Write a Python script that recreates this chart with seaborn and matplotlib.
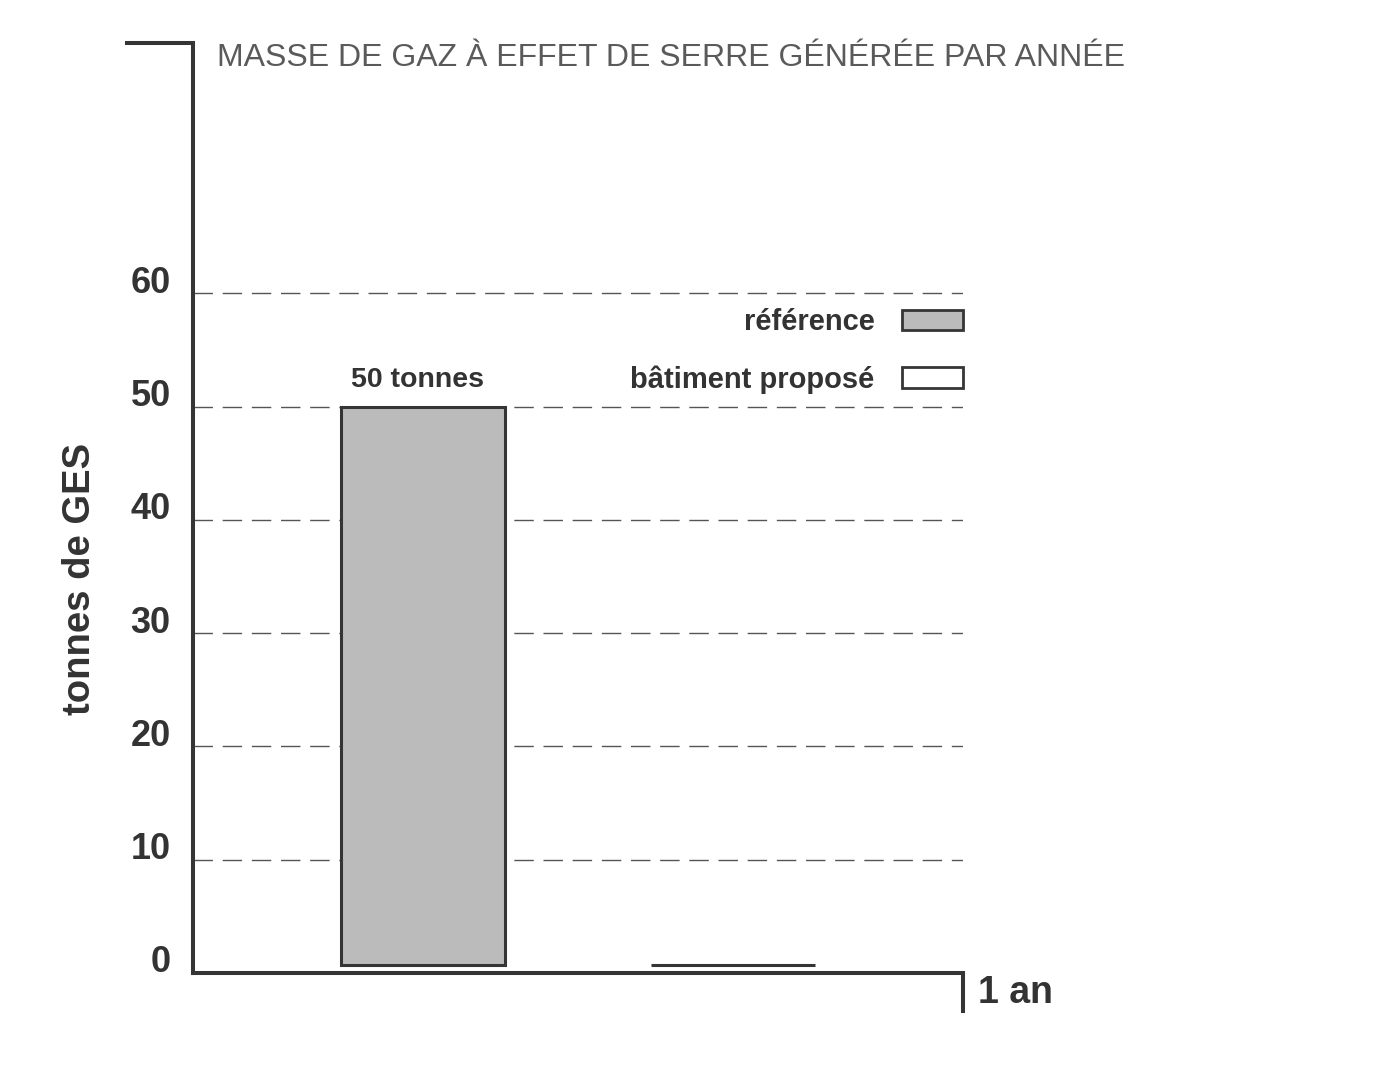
import matplotlib.pyplot as plt
import seaborn as sns
import pandas as pd
from matplotlib.patches import Patch
from matplotlib.transforms import ScaledTranslation

# data
categories = ["référence", "bâtiment proposé"]
values = [50, 0]
bar_labels = ["50 tonnes", ""]
yticks = [0, 10, 20, 30, 40, 50, 60]
colors = ["#bbbbbb", "#ffffff"]

BASE = 0.7  # bars sit just above the axis line
dark = "#353535"

sns.set_style("white")
plt.rcParams["font.family"] = ["Liberation Sans", "DejaVu Sans"]

df = pd.DataFrame({"cat": categories, "h": [max(v - BASE, 0) for v in values]})

fig = plt.figure(figsize=(14, 10.79), dpi=100)
ax = fig.add_axes([193 / 1400, 1 - 973 / 1079, 770 / 1400, 930 / 1079])

sns.barplot(data=df, x="cat", y="h", hue="cat", palette=colors, saturation=1,
            width=0.526, bottom=BASE, edgecolor=dark, linewidth=2.2,
            legend=False, ax=ax, zorder=3)

ax.set_xlim(-0.742, 1.742)
ax.set_ylim(0, 82.1)
ax.set_xticks([])
ax.set_xlabel("")

# value label above the bar
txts = ax.bar_label(ax.containers[0], labels=[bar_labels[0]], padding=10,
                    fontsize=20.5, fontweight="bold", color="#333333")
for t in txts:
    t.xyann = (t.xyann[0] - 4.3, t.xyann[1])

# y axis
ax.set_yticks(yticks)
ax.set_yticklabels([str(t) for t in yticks], fontsize=26, fontweight="bold", color="#333333")
ax.tick_params(axis="y", length=0, pad=16)
for lab in ax.get_yticklabels():
    lab.set_transform(lab.get_transform() + ScaledTranslation(0, 0.14, fig.dpi_scale_trans))
ax.set_ylabel("tonnes de GES", fontsize=27.5, fontweight="bold", color="#333333")
ax.yaxis.set_label_coords(-0.123, 0.424)

ax.grid(axis="y", linestyle=(0, (14, 7)), color="#555555", linewidth=1)
ax.grid(axis="x", visible=False)

# spines
for s in ["top", "right"]:
    ax.spines[s].set_visible(False)
for s in ["left", "bottom"]:
    ax.spines[s].set_color(dark)
    ax.spines[s].set_linewidth(2.9)
    ax.spines[s].set_capstyle("projecting")
ax.plot([-0.0857, 0], [1, 1], transform=ax.transAxes, clip_on=False,
        color=dark, lw=2.9, solid_capstyle="projecting")
ax.plot([1, 1], [0, -0.043], transform=ax.transAxes, clip_on=False,
        color=dark, lw=2.9, solid_capstyle="butt")

ax.text(1.019, -0.0215, "1 an", transform=ax.transAxes, fontsize=27,
        fontweight="bold", color="#333333", ha="left", va="center")

# title
ax.text(0.031, 0.984, "MASSE DE GAZ À EFFET DE SERRE GÉNÉRÉE PAR ANNÉE",
        transform=ax.transAxes, fontsize=23, color="#5a5a5a", ha="left", va="center")

# legend
handles = [Patch(facecolor=c, edgecolor=dark, linewidth=2) for c in colors]
ax.legend(handles, categories, loc="upper right", bbox_to_anchor=(1.0, 0.7146),
          frameon=False, markerfirst=False, borderaxespad=0, borderpad=0,
          handlelength=2.1, handleheight=0.69, handletextpad=0.93,
          labelspacing=0.99, prop={"size": 21, "weight": "bold"},
          labelcolor="#333333")

fig.savefig("out.png", dpi=100, facecolor="white")
